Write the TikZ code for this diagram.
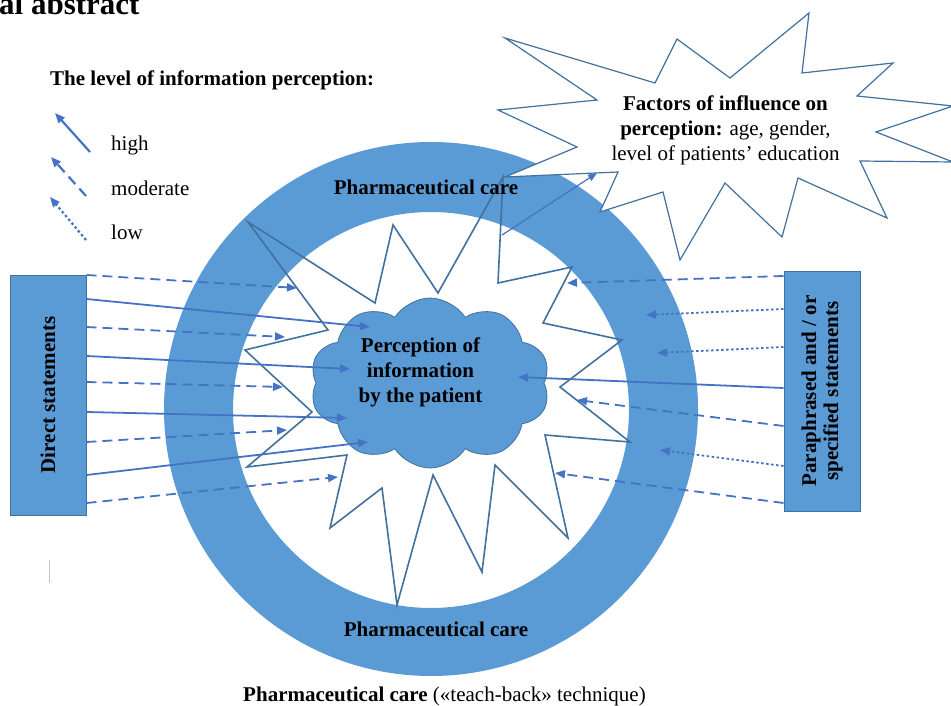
\documentclass[tikz,border=0pt]{standalone}
\usepackage{fontspec}
\setmainfont{Liberation Serif}
\usetikzlibrary{arrows.meta,shapes.symbols}
\definecolor{careblue}{HTML}{5B9BD5}
\definecolor{edgeblue}{HTML}{41719C}
\definecolor{arrowblue}{HTML}{4472C4}
\tikzset{
  lvlhigh/.style={draw=arrowblue, line width=1.8pt, -{Triangle[length=10pt,width=8pt]}},
  lvlmod/.style={lvlhigh, dash pattern=on 10pt off 6pt},
  lvllow/.style={lvlhigh, dash pattern=on 2.5pt off 2.5pt},
  stmtbox/.style={draw=edgeblue, fill=careblue, line width=1pt, minimum width=76pt, minimum height=240pt, inner sep=0pt},
  starline/.style={draw=edgeblue, line width=1.6pt, line join=miter, miter limit=20},
  txt/.style={font=\fontsize{21}{25}\selectfont, align=center, inner sep=0pt},
  boldtxt/.style={txt, font=\fontsize{21}{25}\selectfont\bfseries},
}
\begin{document}
\begin{tikzpicture}[x=1pt, y=-1pt]
\useasboundingbox (0,0) rectangle (951,706);

% ring of pharmaceutical care
\fill[careblue, even odd rule] (431,409) circle[radius=267] (431,410) circle[radius=198];

% burst holding the influence factors
\draw[draw=edgeblue, fill=white, line width=1.2pt, line join=miter, miter limit=20]
  (505,38) -- (655,83) -- (677,39) -- (730,78) -- (809,13) -- (802,73) -- (893,63)
  -- (857,96) -- (953,106) -- (876,132) -- (953,162) -- (860,161) -- (887,218)
  -- (798,178) -- (782,237) -- (725,183) -- (680,260) -- (663,192) -- (600,212)
  -- (618,172) -- (505,177) -- (577,147) -- (498,110) -- (597,100) -- cycle;

% inner star around the patient
\draw[starline]
  (248,222) -- (375,303) -- (393,225) -- (438,293) -- (503,177) -- (498,283)
  -- (572,267) -- (543,323) -- (622,340) -- (560,387) -- (630,442) -- (545,435)
  -- (568,538) -- (495,465) -- (482,572) -- (433,475) -- (397,605) -- (382,488)
  -- (330,528) -- (347,455) -- (247,467) -- (312,412) -- (245,350) -- (328,330) -- cycle;

% patient's perception
\node[cloud, cloud puffs=10, cloud puff arc=115, aspect=1.45, minimum width=240pt,
      minimum height=170pt, fill=careblue, draw=edgeblue, line width=0.8pt] (cloud) at (430,383) {};
\node[boldtxt] (perc) at (420.5,372) {Perception of\\information\\by the patient};

% statement boxes
\node[stmtbox] (ds) at (48,395) {};
\node[boldtxt, rotate=90] (dstext) at (ds.center) {Direct statements};
\node[stmtbox] (ps) at (822,391) {};
\node[boldtxt, font=\fontsize{21}{22}\selectfont\bfseries, rotate=90] (pstext) at (ps.center)
  {Paraphrased and / or\\specified statements};

% arrows from direct statements
\foreach \s/\ya/\xb/\yb [count=\i] in {
  lvlmod/275/297/288, lvlhigh/299/370/327, lvlmod/327/285/337,
  lvlhigh/356/350/369, lvlmod/382/283/387, lvlhigh/412/347/418,
  lvlmod/442/287/430, lvlhigh/475/368/442, lvlmod/503/338/477} {
  \coordinate (dend\i) at (\xb,\yb);
  \draw[\s] (ds.east |- 0,\ya) -- (dend\i);
}

% arrows from paraphrased statements
\foreach \s/\ya/\xb/\yb [count=\i] in {
  lvlmod/276/567/283, lvllow/309/646/315, lvllow/347/657/353,
  lvlhigh/388/518/377, lvlmod/426/577/400, lvllow/466/660/450,
  lvlmod/503/555/473} {
  \coordinate (pend\i) at (\xb,\yb);
  \draw[\s] (ps.west |- 0,\ya) -- (pend\i);
}

% link towards the influence factors
\coordinate (linkfrom) at (502,235);
\coordinate (linkto) at (597,173);
\draw[draw=arrowblue, line width=1.2pt, -{Triangle[length=9pt,width=7pt]}] (linkfrom) -- (linkto);

% texts
\node[boldtxt] (factors) at (725.5,130.4) {\fontsize{21}{24}\selectfont Factors of influence on\\
  perception: \mdseries age, gender,\\\mdseries level of patients’ education};
\node[boldtxt, anchor=base] (caretop) at (426,194) {Pharmaceutical care};
\node[boldtxt, anchor=base] (carebot) at (436,636.7) {Pharmaceutical care};
\node[txt, anchor=base] (caption) at (444.5,701.7) {\bfseries Pharmaceutical care \mdseries(«teach-back» technique)};
\node[txt, font=\fontsize{31}{36}\selectfont\bfseries, anchor=base west] (title) at (-1,15) {al abstract};

% legend
\node[boldtxt, anchor=base west] (legtitle) at (50,86) {The level of information perception:};
\coordinate (hs) at (90,152); \coordinate (he) at (55,113);
\coordinate (ms) at (86,196); \coordinate (me) at (51,157);
\coordinate (ls) at (86,240); \coordinate (le) at (50,197);
\draw[lvlhigh, line width=2.2pt] (hs) -- (he);
\draw[lvlmod, line width=2.2pt] (ms) -- (me);
\draw[lvllow, line width=2.2pt] (ls) -- (le);
\node[txt, anchor=base west] (lhigh) at (111,151) {high};
\node[txt, anchor=base west] (lmod) at (111,196) {moderate};
\node[txt, anchor=base west] (llow) at (111,240) {low};

% small stray mark
\draw[gray!45, line width=0.8pt] (49.5,560) -- (49.5,583);
\end{tikzpicture}
\end{document}
